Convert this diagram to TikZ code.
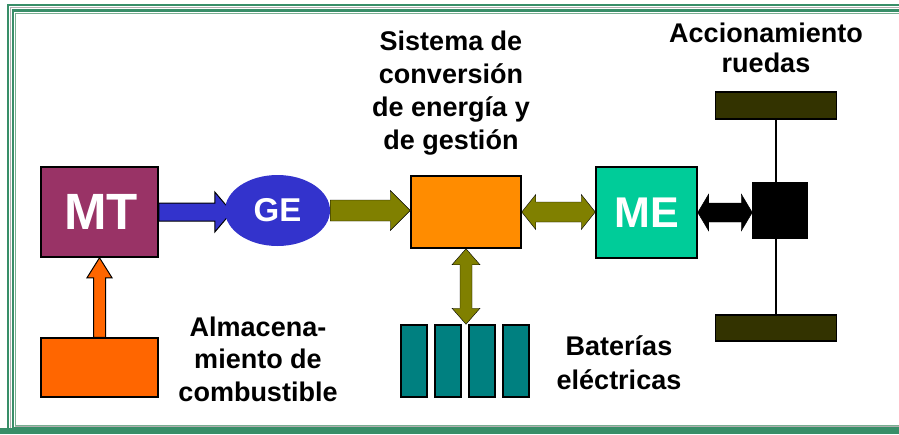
\documentclass[tikz,border=0pt]{standalone}
\usepackage{fontspec}
\setmainfont{Liberation Sans}
\usetikzlibrary{shapes.geometric,calc,backgrounds}

\definecolor{framegreen}{RGB}{56,142,104}
\definecolor{framelight}{RGB}{120,175,145}
\definecolor{framegray}{RGB}{175,175,175}
\definecolor{mtpurple}{RGB}{153,51,102}
\definecolor{geblue}{RGB}{51,51,204}
\definecolor{convorange}{RGB}{255,140,0}
\definecolor{meteal}{RGB}{0,204,153}
\definecolor{tankorange}{RGB}{255,102,0}
\definecolor{battteal}{RGB}{0,128,128}
\definecolor{wheeldark}{RGB}{51,51,0}
\definecolor{flowolive}{RGB}{128,128,0}

\tikzset{
  unit/.style={draw=black, line width=1.5pt, inner sep=0pt},
  tag/.style={text=white, font=\bfseries},
  caption/.style={align=center, inner sep=0pt, anchor=north},
}

% block arrows: style, from, to, half shaft, half head, head length
\newcommand{\blockright}[6]{%
  \draw[#1] let \p1=(#2), \p2=(#3) in
    (\x1,\y1+#4) -- (\x2-#6,\y1+#4) -- (\x2-#6,\y1+#5) -- (\x2,\y1)
    -- (\x2-#6,\y1-#5) -- (\x2-#6,\y1-#4) -- (\x1,\y1-#4) -- cycle;}
\newcommand{\blockboth}[6]{%
  \draw[#1] let \p1=(#2), \p2=(#3) in
    (\x1,\y1) -- (\x1+#6,\y1+#5) -- (\x1+#6,\y1+#4) -- (\x2-#6,\y1+#4)
    -- (\x2-#6,\y1+#5) -- (\x2,\y1) -- (\x2-#6,\y1-#5) -- (\x2-#6,\y1-#4)
    -- (\x1+#6,\y1-#4) -- (\x1+#6,\y1-#5) -- cycle;}
\newcommand{\blockup}[6]{%
  \draw[#1] let \p1=(#2), \p2=(#3) in
    (\x1-#4,\y1) -- (\x1-#4,\y2-#6) -- (\x1-#5,\y2-#6) -- (\x1,\y2)
    -- (\x1+#5,\y2-#6) -- (\x1+#4,\y2-#6) -- (\x1+#4,\y1) -- cycle;}
\newcommand{\blockvert}[6]{%
  \draw[#1] let \p1=(#2), \p2=(#3) in
    (\x1,\y1) -- (\x1+#5,\y1-#6) -- (\x1+#4,\y1-#6) -- (\x1+#4,\y2+#6)
    -- (\x1+#5,\y2+#6) -- (\x1,\y2) -- (\x1-#5,\y2+#6) -- (\x1-#4,\y2+#6)
    -- (\x1-#4,\y1-#6) -- (\x1-#5,\y1-#6) -- cycle;}

\begin{document}
\begin{tikzpicture}[x=1pt, y=-1pt]
  \useasboundingbox (0,0) rectangle (899,434);

  % frame
  \begin{scope}
    \clip (0,0) rectangle (899,434);
    \draw[framegreen, line width=2.5] (8,5) rectangle (910,431);
    \draw[framegray, line width=1] (10.5,7.5) rectangle (910,429);
    \draw[framegreen, line width=2.5] (13,10.5) rectangle (910,428);
    \draw[framelight, line width=1.5] (15.5,13.5) rectangle (910,426);
    \fill[framegreen] (0,428) rectangle (910,434);
    \draw[framegray, line width=1] (15,426.5) -- (910,426.5);
  \end{scope}

  % units
  \node[unit, fill=mtpurple, minimum width=117, minimum height=90] (mt) at (99.5,212) {};
  \node[tag, font=\fontsize{51}{51}\selectfont\bfseries] at (101,211.5) {MT};
  \node[unit, fill=tankorange, minimum width=117, minimum height=59] (tank) at (99.5,367.5) {};
  \node[ellipse, fill=geblue, inner sep=0pt, minimum width=105, minimum height=71,
        tag, font=\fontsize{33}{33}\selectfont\bfseries] (ge) at (277.5,210.5) {GE};
  \node[unit, fill=convorange, minimum width=110, minimum height=72] (conv) at (466,212) {};
  \node[unit, fill=meteal, minimum width=101, minimum height=91,
        tag, font=\fontsize{43}{43}\selectfont\bfseries] (me) at (646.5,212.5) {ME};
  \node[unit, fill=black, minimum width=54, minimum height=55] (hub) at (780,210.5) {};
  \node[unit, fill=wheeldark, minimum width=121, minimum height=27] (wtop) at (776,105.5) {};
  \node[unit, fill=wheeldark, minimum width=121, minimum height=26] (wbot) at (776,328) {};
  \foreach \i/\x in {1/414,2/448,3/482,4/516}
    \node[unit, fill=battteal, minimum width=26, minimum height=72] (b\i) at (\x,361) {};

  % labels
  \node[caption, font=\fontsize{27}{33}\selectfont\bfseries] (lblconv) at (451,30.5)
    {Sistema de\\conversión\\de energía y\\de gestión};
  \node[caption, font=\fontsize{27}{30}\selectfont\bfseries] (lblwheels) at (766,22.5)
    {Accionamiento\\ruedas};
  \node[caption, font=\fontsize{27}{32.5}\selectfont\bfseries] (lbltank) at (258,316.5)
    {Almacena-\\miento de\\combustible};
  \node[caption, font=\fontsize{27}{34}\selectfont\bfseries] (lblbatt) at (619,335.5)
    {Baterías\\eléctricas};

  % flows
  \begin{scope}[on background layer]
    \draw[line width=1.5] (wtop.south) -- (wbot.north);
    \blockright{fill=geblue, draw=black, line width=1}{mt.east}{$(ge.west)+(7,0)$}{9pt}{20pt}{17pt}
  \end{scope}
  \blockright{fill=flowolive}{ge.east}{conv.west}{10.5pt}{20pt}{20pt}
  \blockboth{fill=flowolive}{conv.east}{me.west}{10pt}{17.5pt}{14pt}
  \blockboth{fill=black}{me.east}{hub.west}{9.5pt}{18.5pt}{11pt}
  \blockup{fill=tankorange, draw=black, line width=1}{tank.north}{mt.south}{6pt}{12.5pt}{20pt}
  \blockvert{fill=flowolive}{conv.south}{$(conv.south |- b2.north)$}{6pt}{14pt}{16pt}
\end{tikzpicture}
\end{document}
